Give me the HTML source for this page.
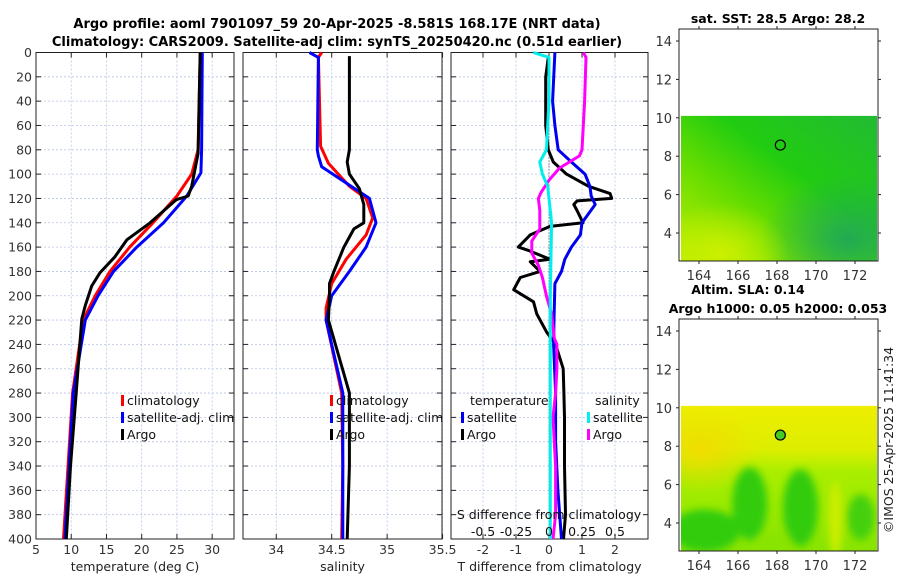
<!DOCTYPE html>
<html><head><meta charset="utf-8">
<style>
html,body{margin:0;padding:0;background:#fff;}
svg{display:block;font-family:"DejaVu Sans","Liberation Sans",sans-serif;}
</style></head>
<body>
<svg id="fig" width="900" height="580" viewBox="0 0 900 580" xmlns="http://www.w3.org/2000/svg">
<defs>
<linearGradient id="sstBase" x1="0" y1="1" x2="1" y2="0">
<stop offset="0" stop-color="#bfee00"/><stop offset="0.35" stop-color="#66dd00"/><stop offset="0.6" stop-color="#22cc11"/><stop offset="1" stop-color="#22bb33"/>
</linearGradient>
<radialGradient id="sstTeal" cx="0.85" cy="0.85" r="0.45">
<stop offset="0" stop-color="#22aa55"/><stop offset="1" stop-color="#22aa55" stop-opacity="0"/>
</radialGradient>
<radialGradient id="sstYellow" cx="0.2" cy="0.95" r="0.35">
<stop offset="0" stop-color="#ccf000"/><stop offset="1" stop-color="#ccf000" stop-opacity="0"/>
</radialGradient>
<linearGradient id="slaBase" x1="0" y1="0" x2="0" y2="1">
<stop offset="0" stop-color="#eeee00"/><stop offset="0.3" stop-color="#ddee00"/><stop offset="0.45" stop-color="#aaee00"/><stop offset="1" stop-color="#88e400"/>
</linearGradient>
<radialGradient id="slaYel" cx="0.1" cy="0.3" r="0.3">
<stop offset="0" stop-color="#f0dd00"/><stop offset="1" stop-color="#f0dd00" stop-opacity="0"/>
</radialGradient>
<filter id="blur" x="-20%" y="-20%" width="140%" height="140%"><feGaussianBlur stdDeviation="4"/></filter>
<clipPath id="slaClip"><rect x="681" y="405" width="196" height="146"/></clipPath>
</defs>
<text x="337" y="28" text-anchor="middle" font-size="13" font-weight="bold">Argo profile: aoml 7901097_59 20-Apr-2025 -8.581S 168.17E (NRT data)</text>
<text x="337" y="46" text-anchor="middle" font-size="13" font-weight="bold">Climatology: CARS2009. Satellite-adj clim: synTS_20250420.nc (0.51d earlier)</text>
<g id="panels"></g>
<g id="maps"></g>
<text transform="translate(893,440) rotate(-90)" text-anchor="middle" font-size="12.5" fill="#222">©IMOS 25-Apr-2025 11:41:34</text>
</svg>
<script>
// ---- data ----
const depthT_clim = [0,80,100,118,140,160,180,200,220,280,400];
const temp_clim   = [28.3,28.0,27.1,25.0,21.6,18.3,15.5,13.4,11.7,10.2,8.9];
const depthT_sat  = [0,80,99,118,140,160,180,200,220,280,400];
const temp_sat    = [28.6,28.5,28.4,26.4,23.1,19.3,16.0,13.8,12.0,10.3,9.1];
const depthT_argo = [0,83,110,118,121,140,154,168,181,192,208,219,280,340,400];
const temp_argo   = [28.3,28.0,27.1,26.6,24.9,21.2,17.9,16.2,14.1,12.9,12.0,11.5,10.7,9.9,9.3];

const depthS_clim = [0,4,77,91,110,120,136,150,170,190,210,220,280,340,400];
const sal_clim    = [34.41,34.38,34.40,34.47,34.66,34.81,34.87,34.81,34.63,34.50,34.45,34.45,34.59,34.60,34.59];
const depthS_sat  = [0,4,80,85,94,120,140,160,180,200,220,280,400];
const sal_sat     = [34.30,34.38,34.37,34.38,34.41,34.84,34.90,34.81,34.66,34.50,34.45,34.60,34.60];
const depthS_argo = [3,60,80,90,100,112,125,140,145,160,180,190,200,220,280,340,400];
const sal_argo    = [34.66,34.66,34.66,34.64,34.66,34.75,34.79,34.79,34.70,34.61,34.52,34.48,34.48,34.47,34.66,34.66,34.64];

const depthDT_argo = [4,20,60,80,90,100,110,116,120,122,125,130,140,143,150,160,163,170,172,180,185,195,205,215,230,240,260,280,300,340,380,400];
const dT_argo      = [-0.02,-0.1,-0.1,-0.02,0.13,0.53,1.2,1.85,1.9,0.85,0.75,0.85,1.03,0.03,-0.57,-0.93,-0.6,0.03,-0.57,-0.27,-0.87,-1.07,-0.47,-0.37,-0.07,0.2,0.43,0.45,0.47,0.47,0.5,0.44];
const depthDT_sat  = [0,40,60,80,90,100,110,118,125,140,150,160,170,180,190,220,240,280,320,360,400];
const dT_sat       = [0.18,0.11,0.18,0.28,0.68,1.09,1.24,1.28,1.4,1.0,0.95,0.68,0.48,0.38,0.18,0.15,0.14,0.2,0.2,0.27,0.38];
const depthDS_sat  = [0,4,40,80,90,100,110,140,200,240,260,400];
const dS_sat       = [-0.12,0.0,0.0,-0.02,-0.07,-0.05,-0.01,0.02,0.01,0.01,0.01,0.01];
const depthDS_argo = [0,4,40,80,85,95,105,115,120,130,145,155,165,175,185,200,215,235,240,260,280,300,340,380,400];
const dS_argo      = [0.26,0.28,0.27,0.25,0.23,0.08,0.0,-0.06,-0.08,-0.07,-0.07,-0.13,-0.13,-0.08,-0.05,-0.02,0.02,0.04,0.06,0.06,0.05,0.03,0.05,0.05,0.03];

const depthTicks = [0,20,40,60,80,100,120,140,160,180,200,220,240,260,280,300,320,340,360,380,400];
const tempTicks = [5,10,15,20,25,30];
const salTicks = [34,34.5,35,35.5];
const dTTicks = [-2,-1,0,1,2];
const dSTicks = [-0.5,-0.25,0,0.25,0.5];
const dSTickLabels = ["-0.5","-0.25","0","0.25","0.5"];
const latTicks = [4,6,8,10,12,14];
const lonTicks = [164,166,168,170,172];
const floatLon = [168.17];
const floatLat = [8.58];

// ---- helpers ----
const NS="http://www.w3.org/2000/svg";
function mk(tag,attrs,parent,txt){const e=document.createElementNS(NS,tag);for(const k in attrs)e.setAttribute(k,attrs[k]);if(txt!==undefined)e.textContent=txt;parent.appendChild(e);return e;}
const Y0=52.5,Y1=539;
const yD=d=>Y0+(d/400)*(Y1-Y0);
const panels=document.getElementById('panels');

function panel(name,x0,x1,vmin,vmax,ticks,labelFn,showY,title){
  const g=mk('g',{},panels);
  
  
  const sx=v=>x0+(v-vmin)/(vmax-vmin)*(x1-x0);
  depthTicks.forEach(d=>{
    const gl=mk('line',{x1:x0,x2:x1,y1:yD(d),y2:yD(d),stroke:'#b8c4e8','stroke-width':0.8,'stroke-dasharray':'2,2'},g);
    
    
    mk('line',{x1:x0,x2:x0+5,y1:yD(d),y2:yD(d),stroke:'#222'},g);
    mk('line',{x1:x1-5,x2:x1,y1:yD(d),y2:yD(d),stroke:'#222'},g);
    if(showY){const t=mk('text',{x:x0-4,y:yD(d)+4.5,'text-anchor':'end','font-size':12.5,fill:'#333'},g,String(d));
      
      }
  });
  ticks.forEach(v=>{
    const x=sx(v);
    const gl=mk('line',{x1:x,x2:x,y1:Y0,y2:Y1,stroke:'#b8c4e8','stroke-width':0.8,'stroke-dasharray':'2,2'},g);
    
    
    mk('line',{x1:x,x2:x,y1:Y1,y2:Y1-5,stroke:'#222'},g);
    mk('line',{x1:x,x2:x,y1:Y0,y2:Y0+5,stroke:'#222'},g);
    const t=mk('text',{x:x,y:554,'text-anchor':'middle','font-size':12.5,fill:'#333'},g,labelFn(v));
    
    
  });
  const r=mk('rect',{x:x0,y:Y0,width:x1-x0,height:Y1-Y0,fill:'none',stroke:'#222','stroke-width':1},g);
  
  
  const tt=mk('text',{x:(x0+x1)/2,y:571,'text-anchor':'middle','font-size':12.5,fill:'#222'},g,title);
  
  
  return {g,sx};
}
function line(p,ds,vs,col,name,w){
  const pts=ds.map((d,i)=>p.sx(vs[i]).toFixed(1)+','+yD(d).toFixed(1)).join(' ');
  const l=mk('polyline',{points:pts,fill:'none',stroke:col,'stroke-width':w||3,'stroke-linejoin':'round'},p.g);
  
  
}
function legend(g,x,y,col,label,name){
  const b=mk('rect',{x:x,y:y-10,width:3,height:11,fill:col},g);
  
  
  const t=mk('text',{x:x+6,y:y,'font-size':12.5,fill:'#111'},g,label);
  
  
}

// Panel 1 temperature
const p1=panel('temperature-panel',36,234,5,33.1,tempTicks,v=>String(v),true,'temperature (deg C)');
line(p1,depthT_clim,temp_clim,'#ff0000','temp-climatology-line');
line(p1,depthT_sat,temp_sat,'#0000ff','temp-satellite-line');
line(p1,depthT_argo,temp_argo,'#000','temp-argo-line');
legend(p1.g,121,405,'#ff0000','climatology','legend-climatology');
legend(p1.g,121,422,'#0000ff','satellite-adj. clim','legend-satellite');
legend(p1.g,121,439,'#000','Argo','legend-argo');

// Panel 2 salinity
const p2=panel('salinity-panel',243,442,33.7,35.495,salTicks,v=>String(v),false,'salinity');
line(p2,depthS_clim,sal_clim,'#ff0000','sal-climatology-line');
line(p2,depthS_sat,sal_sat,'#0000ff','sal-satellite-line');
line(p2,depthS_argo,sal_argo,'#000','sal-argo-line');
legend(p2.g,330,405,'#ff0000','climatology','legend-sal-climatology');
legend(p2.g,330,422,'#0000ff','satellite-adj. clim','legend-sal-satellite');
legend(p2.g,330,439,'#000','Argo','legend-sal-argo');

// Panel 3 differences
const p3=panel('difference-panel',451,648,-2.97,3,dTTicks,v=>String(v),false,'T difference from climatology');
const zl=mk('line',{x1:p3.sx(0),x2:p3.sx(0),y1:Y0,y2:Y1,stroke:'#444','stroke-dasharray':'1,2'},p3.g);


const sS={g:p3.g,sx:v=>p3.sx(v*4)};
line(p3,depthDT_argo,dT_argo,'#000','dT-argo-line');
line(p3,depthDT_sat,dT_sat,'#0000ee','dT-satellite-line');
line(sS,depthDS_argo,dS_argo,'#ff00ff','dS-argo-line');
line(sS,depthDS_sat,dS_sat,'#00eeee','dS-satellite-line');
const tl=mk('text',{x:470,y:405,'font-size':12.5,fill:'#111'},p3.g,'temperature');


legend(p3.g,461,422,'#0000ee','satellite','legend-t-satellite');
legend(p3.g,461,439,'#000','Argo','legend-t-argo');
const sl=mk('text',{x:595,y:405,'font-size':12.5,fill:'#111'},p3.g,'salinity');


legend(p3.g,587,422,'#00eeee','satellite','legend-s-satellite');
legend(p3.g,587,439,'#ff00ff','Argo','legend-s-argo');
const st=mk('text',{x:549,y:519,'text-anchor':'middle','font-size':12.5,fill:'#111'},p3.g,'S difference from climatology');


dSTicks.forEach((v,i)=>{
  const t=mk('text',{x:sS.sx(v),y:536,'text-anchor':'middle','font-size':12.5,fill:'#111'},p3.g,dSTickLabels[i]);
  
  
});

// ---- maps ----
const maps=document.getElementById('maps');
function mapPanel(name,top,fillId,overlays,title1,title2,dotFill,blobs){
  const g=mk('g',{},maps);
  
  
  const x0=679,x1=878,y0=top,y1=top+232;
  const lx=v=>699+(v-164)*19.5;
  const ly=v=>(top+12)+(14-v)*19.2;
  const dr=mk('rect',{x:681,y:ly(10.1),width:196,height:y1-ly(10.1),fill:'url(#'+fillId+')'},g);
  
  
  overlays.forEach(o=>{mk('rect',{x:681,y:ly(10.1),width:196,height:y1-ly(10.1),fill:'url(#'+o+')'},g);});
  if(blobs){
    const bg=mk('g',{'clip-path':'url(#slaClip)'},g);
    const bf=mk('g',{filter:'url(#blur)'},bg);
    blobs.forEach(b=>{
      const e=mk('ellipse',{cx:lx(b[0]),cy:ly(b[1]),rx:b[2]*19.5,ry:b[3]*19.2,fill:b[4]},bf);
      
      
    });
  }
  mk('rect',{x:x0,y:y0,width:x1-x0,height:y1-y0,fill:'none',stroke:'#222'},g);
  latTicks.forEach(v=>{
    mk('line',{x1:x0-3,x2:x0,y1:ly(v),y2:ly(v),stroke:'#222'},g);
    mk('line',{x1:x1,x2:x1+3,y1:ly(v),y2:ly(v),stroke:'#222'},g);
    const t=mk('text',{x:x0-7,y:ly(v)+5,'text-anchor':'end','font-size':13,fill:'#333'},g,String(v));
    
    
  });
  lonTicks.forEach(v=>{
    mk('line',{x1:lx(v),x2:lx(v),y1:y1,y2:y1+3,stroke:'#222'},g);
    mk('line',{x1:lx(v),x2:lx(v),y1:y0-3,y2:y0,stroke:'#222'},g);
    const t=mk('text',{x:lx(v),y:y1+19,'text-anchor':'middle','font-size':13,fill:'#333'},g,String(v));
    
    
  });
  const c=mk('circle',{cx:lx(floatLon[0]),cy:ly(floatLat[0]),r:5,fill:dotFill,stroke:'#000','stroke-width':1.2},g);
  
  
  if(title2){
    const a=mk('text',{x:748,y:294,'text-anchor':'middle','font-size':12.5,'font-weight':'bold'},g,title1);
    
    
    const b=mk('text',{x:778,y:313,'text-anchor':'middle','font-size':12.5,'font-weight':'bold'},g,title2);
    
    
  } else {
    const a=mk('text',{x:778,y:23,'text-anchor':'middle','font-size':12.5,'font-weight':'bold'},g,title1);
    
    
  }
  return g;
}
mapPanel('sst-map',29,'sstBase',['sstTeal','sstYellow'],'sat. SST: 28.5 Argo: 28.2',null,'none',null);
// blobs: [lon, lat, halfWidthDeg, halfHeightDeg, colour]
const slaBlobs=[
 [164.3,3.6,1.8,1.1,'#33cc11'],
 [166.6,5.0,0.9,1.9,'#33cc11'],
 [169.2,4.8,0.9,2.0,'#33cc11'],
 [172.3,4.3,0.7,1.2,'#44d011'],
 [167.9,3.0,0.8,0.5,'#88e400'],
 [171.0,4.2,0.35,2.0,'#ccee00']
];
mapPanel('sla-map',319,'slaBase',['slaYel'],'Altim. SLA: 0.14','Argo h1000: 0.05 h2000: 0.053','#44cc22',slaBlobs);
</script>
</body></html>
